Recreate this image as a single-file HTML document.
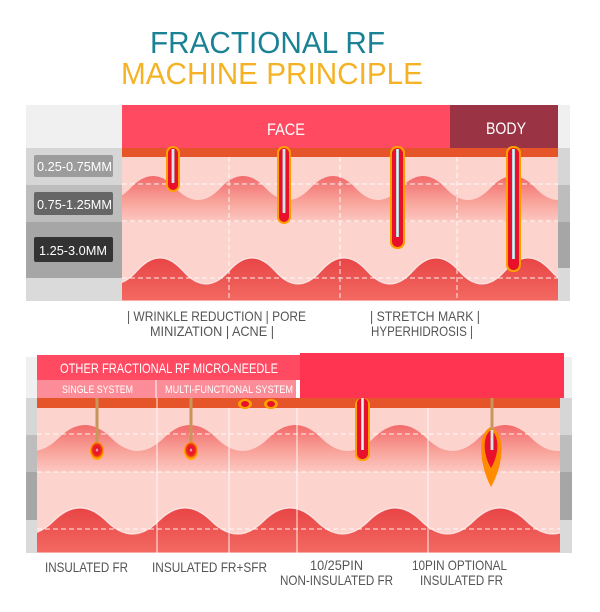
<!DOCTYPE html>
<html><head><meta charset="utf-8"><style>
html,body{margin:0;padding:0;background:#fff;width:600px;height:612px;overflow:hidden}
svg{display:block}
.n{font-family:"Liberation Sans Narrow","Liberation Sans",sans-serif}
</style></head><body>
<svg width="600" height="612" viewBox="0 0 600 612" xmlns="http://www.w3.org/2000/svg">
<defs>
<linearGradient id="w1" x1="0" y1="0" x2="0" y2="1"><stop offset="0" stop-color="#f26a6a"/><stop offset="0.55" stop-color="#f8a39a"/><stop offset="1" stop-color="#fcc8c2"/></linearGradient>
<linearGradient id="w2" x1="0" y1="0" x2="0" y2="1"><stop offset="0" stop-color="#e84545"/><stop offset="1" stop-color="#f36a62"/></linearGradient>
<linearGradient id="ndl" x1="0" y1="0" x2="1" y2="0"><stop offset="0" stop-color="#a9c4cc"/><stop offset="0.5" stop-color="#eef6f8"/><stop offset="1" stop-color="#a9c4cc"/></linearGradient>
<radialGradient id="blob" cy="0.45"><stop offset="0" stop-color="#d8eef4"/><stop offset="0.25" stop-color="#e8102a"/><stop offset="0.65" stop-color="#ee2a20"/><stop offset="0.85" stop-color="#ff8c00"/><stop offset="1" stop-color="#ffb000"/></radialGradient>
<clipPath id="c1"><rect x="122" y="157" width="436" height="144"/></clipPath>
<clipPath id="c2"><rect x="37" y="408" width="523" height="145"/></clipPath>
</defs>

<text x="150" y="53" textLength="235" lengthAdjust="spacingAndGlyphs" font-family="Liberation Sans,sans-serif" font-size="31" fill="#1a8294">FRACTIONAL RF</text>
<text x="121" y="84" textLength="302" lengthAdjust="spacingAndGlyphs" font-family="Liberation Sans,sans-serif" font-size="31" fill="#f5b224">MACHINE PRINCIPLE</text>

<!-- TOP PANEL -->
<rect x="26" y="105" width="96" height="43" fill="#f0f0f0"/>
<rect x="26" y="148" width="96" height="37" fill="#d6d6d6"/>
<rect x="26" y="185" width="96" height="37" fill="#bdbdbd"/>
<rect x="26" y="222" width="96" height="56" fill="#a6a6a6"/>
<rect x="26" y="278" width="96" height="23" fill="#dadada"/>
<rect x="558" y="105" width="12" height="43" fill="#f0f0f0"/>
<rect x="558" y="148" width="12" height="37" fill="#d6d6d6"/>
<rect x="558" y="185" width="12" height="37" fill="#bdbdbd"/>
<rect x="558" y="222" width="12" height="46" fill="#a6a6a6"/>
<rect x="558" y="268" width="12" height="33" fill="#dadada"/>
<rect x="34" y="155" width="79" height="22" rx="2" fill="#9c9c9c"/>
<rect x="34" y="192" width="79" height="23" rx="2" fill="#666"/>
<rect x="34" y="237" width="79" height="25" rx="2" fill="#333"/>
<text x="37" y="171" textLength="75" lengthAdjust="spacingAndGlyphs" class="n" font-size="13" fill="#fff">0.25-0.75MM</text>
<text x="37" y="209" textLength="75" lengthAdjust="spacingAndGlyphs" class="n" font-size="13" fill="#fff">0.75-1.25MM</text>
<text x="39" y="255" textLength="68" lengthAdjust="spacingAndGlyphs" class="n" font-size="13" fill="#fff">1.25-3.0MM</text>

<rect x="122" y="105" width="328" height="43" fill="#ff4a62"/>
<rect x="450" y="105" width="108" height="43" fill="#9a3444"/>
<text x="267" y="135" textLength="38" lengthAdjust="spacingAndGlyphs" class="n" font-size="17" fill="#fff">FACE</text>
<text x="486" y="134" textLength="40" lengthAdjust="spacingAndGlyphs" class="n" font-size="17" fill="#fff">BODY</text>
<rect x="122" y="148" width="436" height="9" fill="#e6542a"/>
<g clip-path="url(#c1)">
<rect x="122" y="157" width="436" height="144" fill="#fdd3ce"/>
<path d="M40.5,188 Q63,164 85.5,188 T130.5,188 T175.5,188 T220.5,188 T265.5,188 T310.5,188 T355.5,188 T400.5,188 T445.5,188 T490.5,188 T535.5,188 T580.5,188 T625.5,188 L625,222 L40,222 Z" fill="url(#w1)"/>
<path d="M45,271 Q68,245 91,271 T137,271 T183,271 T229,271 T275,271 T321,271 T367,271 T413,271 T459,271 T505,271 T551,271 T597,271 T643,271 L643,301 L45,301 Z" fill="url(#w2)" stroke="#fff" stroke-opacity="0.7" stroke-width="1.2"/>
</g>
<g stroke="#fff" stroke-width="1" stroke-dasharray="5,3" opacity="0.9">
<line x1="122" y1="184" x2="558" y2="184"/><line x1="122" y1="221" x2="558" y2="221"/><line x1="122" y1="278" x2="558" y2="278"/>
<line x1="229" y1="157" x2="229" y2="301"/><line x1="340" y1="157" x2="340" y2="301"/><line x1="457" y1="157" x2="457" y2="301"/>
</g>
<g>
<rect x="166" y="146" width="14" height="46" rx="7" fill="#ffa000"/><rect x="168" y="148" width="10" height="42" rx="5" fill="#e8102a"/><rect x="171.5" y="149" width="3" height="34" fill="url(#ndl)"/>
<rect x="277" y="146" width="14" height="78" rx="7" fill="#ffa000"/><rect x="279" y="148" width="10" height="74" rx="5" fill="#e8102a"/><rect x="282.5" y="149" width="3" height="64" fill="url(#ndl)"/>
<rect x="390" y="146" width="15" height="103" rx="7" fill="#ffa000"/><rect x="392" y="148" width="11" height="99" rx="5.5" fill="#e8102a"/><rect x="396" y="149" width="3" height="88" fill="url(#ndl)"/>
<rect x="506" y="146" width="15" height="126" rx="7" fill="#ffa000"/><rect x="508" y="148" width="11" height="122" rx="5.5" fill="#e8102a"/><rect x="512" y="149" width="3" height="110" fill="url(#ndl)"/>
</g>
<text x="127" y="321" textLength="179" lengthAdjust="spacingAndGlyphs" class="n" font-size="14" fill="#555">| WRINKLE REDUCTION | PORE</text>
<text x="150" y="336" textLength="124" lengthAdjust="spacingAndGlyphs" class="n" font-size="14" fill="#555">MINIZATION | ACNE |</text>
<text x="370" y="321" textLength="110" lengthAdjust="spacingAndGlyphs" class="n" font-size="14" fill="#555">| STRETCH MARK |</text>
<text x="371" y="336" textLength="102" lengthAdjust="spacingAndGlyphs" class="n" font-size="14" fill="#555">HYPERHIDROSIS |</text>

<!-- BOTTOM PANEL -->
<rect x="26" y="357" width="11" height="41" fill="#f0f0f0"/>
<rect x="26" y="398" width="11" height="37" fill="#d6d6d6"/>
<rect x="26" y="435" width="11" height="37" fill="#bdbdbd"/>
<rect x="26" y="472" width="11" height="48" fill="#a6a6a6"/>
<rect x="26" y="520" width="11" height="33" fill="#dadada"/>
<rect x="560" y="357" width="12" height="41" fill="#f0f0f0"/>
<rect x="560" y="398" width="12" height="37" fill="#d6d6d6"/>
<rect x="560" y="435" width="12" height="37" fill="#bdbdbd"/>
<rect x="560" y="472" width="12" height="48" fill="#a6a6a6"/>
<rect x="560" y="520" width="12" height="33" fill="#dadada"/>
<rect x="37" y="355" width="265" height="25" fill="#ff4a62"/>
<rect x="37" y="380" width="259" height="18" fill="#fc8d98"/>
<rect x="300" y="353" width="264" height="45" fill="#ff3450"/>
<text x="60" y="373" textLength="218" lengthAdjust="spacingAndGlyphs" class="n" font-size="14" fill="#fff">OTHER FRACTIONAL RF MICRO-NEEDLE</text>
<text x="62" y="393" textLength="71" lengthAdjust="spacingAndGlyphs" class="n" font-size="11" fill="#fff">SINGLE SYSTEM</text>
<text x="165" y="393" textLength="128" lengthAdjust="spacingAndGlyphs" class="n" font-size="11" fill="#fff">MULTI-FUNCTIONAL SYSTEM</text>
<line x1="156" y1="380" x2="156" y2="398" stroke="#fff" stroke-width="1"/>
<rect x="37" y="398" width="523" height="10" fill="#e6542a"/>
<g clip-path="url(#c2)">
<rect x="37" y="408" width="523" height="145" fill="#fdd3ce"/>
<path d="M-46.25,438 Q-20,412 6.25,438 T58.75,438 T111.25,438 T163.75,438 T216.25,438 T268.75,438 T321.25,438 T373.75,438 T426.25,438 T478.75,438 T531.25,438 T583.75,438 T636.25,438 L636,472 L-46,472 Z" fill="url(#w1)"/>
<path d="M-51.25,521 Q-25,495 1.25,521 T53.75,521 T106.25,521 T158.75,521 T211.25,521 T263.75,521 T316.25,521 T368.75,521 T421.25,521 T473.75,521 T526.25,521 T578.75,521 T631.25,521 L631,553 L-51,553 Z" fill="url(#w2)" stroke="#fff" stroke-opacity="0.7" stroke-width="1.2"/>
</g>
<g stroke="#fff" stroke-width="1" stroke-dasharray="5,3" opacity="0.9">
<line x1="37" y1="434" x2="560" y2="434"/><line x1="37" y1="472" x2="560" y2="472"/><line x1="37" y1="529" x2="560" y2="529"/>
</g>
<g stroke="#fff" stroke-width="1" opacity="0.9">
<line x1="157" y1="398" x2="157" y2="553"/><line x1="229" y1="408" x2="229" y2="553"/><line x1="297" y1="408" x2="297" y2="553"/><line x1="428" y1="408" x2="428" y2="553"/>
</g>
<rect x="95.5" y="398" width="3" height="52" fill="#c8965a"/>
<ellipse cx="97" cy="451" rx="7" ry="9" fill="url(#blob)"/>
<rect x="189.5" y="398" width="3" height="52" fill="#c8965a"/>
<ellipse cx="191" cy="451" rx="7" ry="9" fill="url(#blob)"/>
<ellipse cx="245" cy="404" rx="7" ry="5" fill="#ffa000"/><ellipse cx="245" cy="404" rx="4" ry="3" fill="#e8102a"/>
<ellipse cx="271" cy="404" rx="7" ry="5" fill="#ffa000"/><ellipse cx="271" cy="404" rx="4" ry="3" fill="#e8102a"/>
<rect x="355" y="398" width="15" height="63" rx="7" fill="#ffa000"/><rect x="357" y="398" width="11" height="61" rx="5.5" fill="#e8102a"/><rect x="361" y="398" width="3" height="52" fill="url(#ndl)"/>
<path d="M491,427 C478,432 478,462 491,487 C505,462 505,432 491,427 Z" fill="#ff8c00"/>
<path d="M491,430 C482,436 483,455 491,468 C499,455 500,436 491,430 Z" fill="#e8102a"/>
<rect x="490.5" y="398" width="3" height="34" fill="#c8965a"/>
<rect x="490.5" y="430" width="3" height="20" fill="url(#ndl)"/>

<text x="45" y="572" textLength="83" lengthAdjust="spacingAndGlyphs" class="n" font-size="14" fill="#555">INSULATED FR</text>
<text x="152" y="572" textLength="115" lengthAdjust="spacingAndGlyphs" class="n" font-size="14" fill="#555">INSULATED FR+SFR</text>
<text x="310" y="570" textLength="53" lengthAdjust="spacingAndGlyphs" class="n" font-size="14" fill="#555">10/25PIN</text>
<text x="280" y="585" textLength="113" lengthAdjust="spacingAndGlyphs" class="n" font-size="14" fill="#555">NON-INSULATED FR</text>
<text x="412" y="570" textLength="95" lengthAdjust="spacingAndGlyphs" class="n" font-size="14" fill="#555">10PIN OPTIONAL</text>
<text x="420" y="585" textLength="83" lengthAdjust="spacingAndGlyphs" class="n" font-size="14" fill="#555">INSULATED FR</text>
</svg>
</body></html>
